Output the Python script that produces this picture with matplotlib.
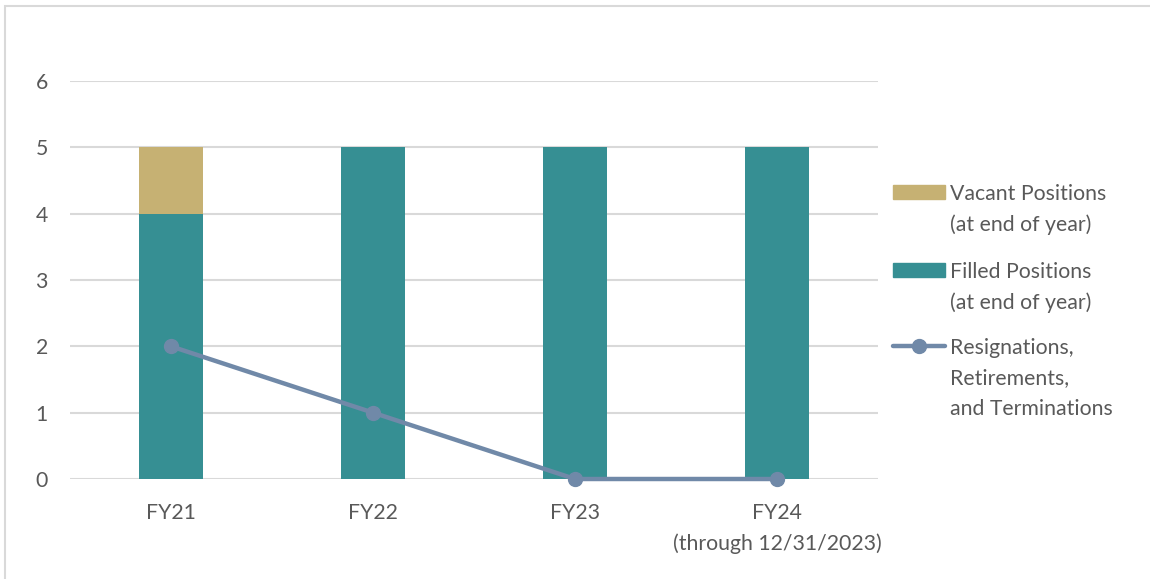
import matplotlib.pyplot as plt
from matplotlib.patches import Rectangle
from matplotlib.lines import Line2D

plt.rcParams['font.family'] = ['Lato', 'DejaVu Sans']

# data
years = ["FY21", "FY22", "FY23", "FY24\n(through 12/31/2023)"]
filled = [4, 5, 5, 5]
vacant = [1, 0, 0, 0]
separations = [2, 1, 0, 0]

teal = "#368F93"
tan = "#C6B173"
slate = "#7089A8"
grey_text = "#595959"
W, H = 1150, 579
fs = 15.3

fig = plt.figure(figsize=(11.5, 5.79), dpi=100)
ax = fig.add_axes([70 / W, 1 - 479 / H, 808 / W, 398 / H])

# outer chart border (only left/top edges show in the crop)
fig.patches.append(Rectangle((5 / W, -0.1), 1.2, 1 - 6 / H + 0.1,
                             transform=fig.transFigure, fill=False,
                             edgecolor="#D9D9D9", linewidth=1.5))

x = list(range(len(years)))
ax.bar(x, filled, width=0.317, color=teal, zorder=2)
ax.bar(x, vacant, width=0.317, bottom=filled, color=tan, zorder=2)
ax.plot(x, separations, color=slate, linewidth=3.2, marker="o",
        markersize=10, zorder=3, solid_capstyle="round", clip_on=False)

ax.set_xlim(-0.5, 3.5)
ax.set_ylim(0, 6)
ax.set_yticks(range(0, 7))
ax.set_xticks(x)
ax.set_xticklabels(years, linespacing=1.65)
ax.grid(axis="y", color="#D9D9D9", linewidth=1.5, zorder=0)
for s in ax.spines.values():
    s.set_visible(False)
ax.tick_params(axis="both", length=0, labelsize=fs, labelcolor=grey_text)
ax.tick_params(axis="y", pad=16)
ax.tick_params(axis="x", pad=17)

# legend drawn by hand so the keys line up with the first text line
legend_labels = ["Vacant Positions\n(at end of year)",
                 "Filled Positions\n(at end of year)",
                 "Resignations,\nRetirements,\nand Terminations"]
key_y = [192, 270, 346]
for lab, ky, kind in zip(legend_labels, key_y, ["tan", "teal", "line"]):
    yf = 1 - ky / H
    if kind == "line":
        fig.add_artist(Line2D([893 / W, 945 / W], [yf, yf], color=slate,
                              linewidth=3.2, solid_capstyle="round"))
        fig.add_artist(Line2D([919 / W], [yf], color=slate, marker="o",
                              markersize=10))
    else:
        fig.patches.append(Rectangle((893 / W, yf - 7 / H), 52 / W, 14 / H,
                                     transform=fig.transFigure,
                                     color=tan if kind == "tan" else teal))
    fig.text(950 / W, yf + 8 / H, lab, ha="left", va="top", fontsize=fs,
             color=grey_text, linespacing=1.65)

fig.savefig("out.png", dpi=100)
